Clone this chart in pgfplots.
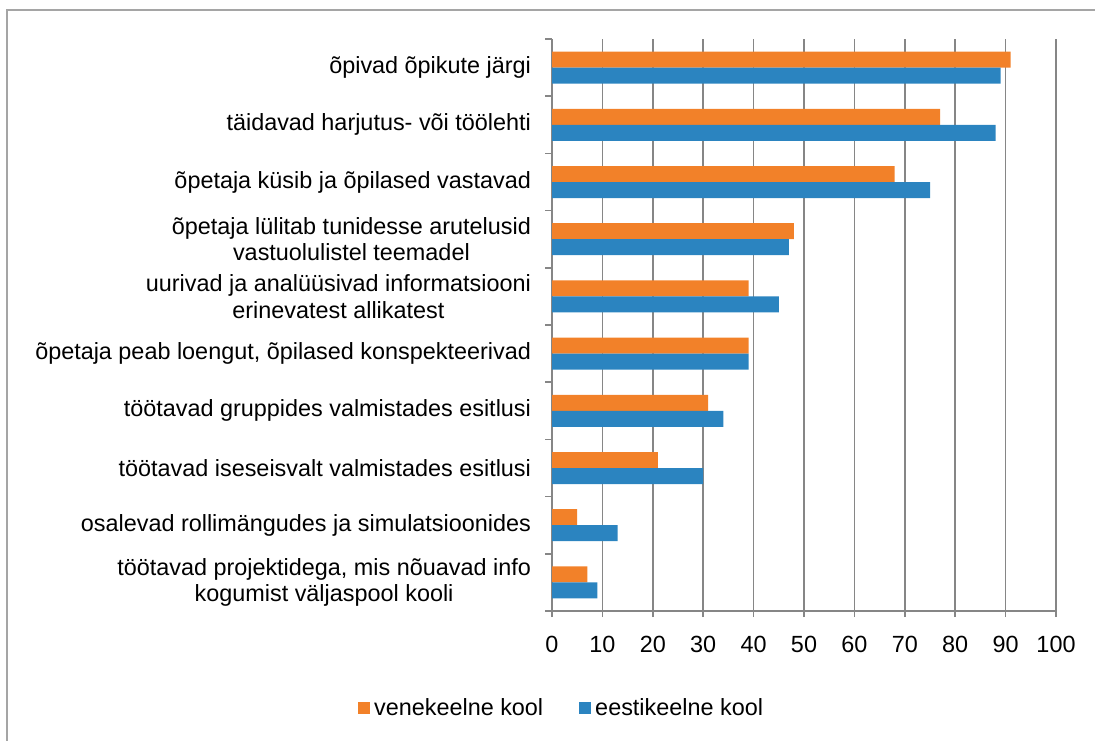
\documentclass[border=0pt]{standalone}
\usepackage{fontspec}
\setmainfont{Liberation Sans}
\usepackage{pgfplots}
\pgfplotsset{compat=1.18}
\definecolor{vene}{RGB}{242,129,41}
\definecolor{eesti}{RGB}{43,132,192}
\definecolor{gridgray}{RGB}{134,134,134}
\begin{document}
\begin{tikzpicture}
\useasboundingbox (0,0) rectangle (547.5pt,370pt);
\draw[color={rgb,255:red,165;green,165;blue,165},line width=1pt] (3.5pt,-2pt) -- (3.5pt,365pt) -- (550pt,365pt);
\begin{axis}[scale only axis,width=252pt,height=286pt,
  at={(276pt,64.5pt)},anchor=south west,
  xbar,bar width=8pt,
  xmin=0,xmax=100,ymin=0.5,ymax=10.5,
  xtick={0,10,...,100},
  ytick={1,...,10},
  yticklabels={{töötavad projektidega, mis nõuavad info\\kogumist väljaspool kooli},
    {osalevad rollimängudes ja simulatsioonides},
    {töötavad iseseisvalt valmistades esitlusi},
    {töötavad gruppides valmistades esitlusi},
    {õpetaja peab loengut, õpilased konspekteerivad},
    {uurivad ja analüüsivad informatsiooni\\erinevatest allikatest},
    {õpetaja lülitab tunidesse arutelusid\\vastuolulistel teemadel},
    {õpetaja küsib ja õpilased vastavad},
    {täidavad harjutus- või töölehti},
    {õpivad õpikute järgi}},
  minor ytick={0.5,1.5,...,10.5},
  axis x line*=bottom,axis y line*=left,
  axis line style={-,gridgray,line width=0.8pt},
  tick align=outside,
  major tick length=3pt,minor tick length=3.5pt,
  every tick/.style={gridgray,line width=0.8pt},
  y tick style={draw=none},
  minor y tick style={draw=gridgray},
  xmajorgrids,
  grid style={gridgray,line width=0.8pt},
  /pgf/number format/assume math mode=true,
  tick label style={font=\fontsize{11.7}{13.3}\selectfont},
  yticklabel style={align=center,xshift=-4pt},
  xticklabel style={yshift=-6pt},
  legend style={draw=none,legend columns=2,at={(0.021,-0.17)},anchor=center,
    font=\fontsize{11.7}{13.3}\selectfont,
    /tikz/every even column/.append style={column sep=16pt}},
  legend image code/.code={\draw[#1,draw=none] (0pt,-3pt) rectangle (6pt,3pt);},
]
\addplot[fill=vene,draw=none,bar shift=4pt] coordinates {
  (91,10) (77,9) (68,8) (48,7) (39,6) (39,5) (31,4) (21,3) (5,2) (7,1)};
\addplot[fill=eesti,draw=none,bar shift=-4pt] coordinates {
  (89,10) (88,9) (75,8) (47,7) (45,6) (39,5) (34,4) (30,3) (13,2) (9,1)};
\legend{venekeelne kool,eestikeelne kool}
\end{axis}
\end{tikzpicture}
\end{document}
